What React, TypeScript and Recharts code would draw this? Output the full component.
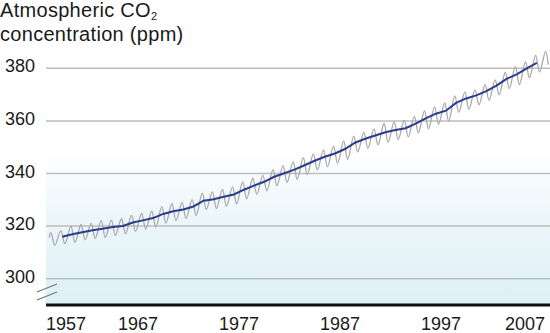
import React from 'react';
import { LineChart, Line, XAxis, YAxis, ReferenceLine, ReferenceArea } from 'recharts';

// Annual mean CO2 (ppm), Mauna Loa, 1959-2006
const ANNUAL_YEARS = [
  1959, 1960, 1961, 1962, 1963, 1964, 1965, 1966, 1967, 1968, 1969, 1970,
  1971, 1972, 1973, 1974, 1975, 1976, 1977, 1978, 1979, 1980, 1981, 1982,
  1983, 1984, 1985, 1986, 1987, 1988, 1989, 1990, 1991, 1992, 1993, 1994,
  1995, 1996, 1997, 1998, 1999, 2000, 2001, 2002, 2003, 2004, 2005, 2006,
];
const ANNUAL_MEAN = [
  315.98, 316.91, 317.64, 318.45, 318.99, 319.62, 320.04, 321.37, 322.18, 323.05, 324.62, 325.68,
  326.32, 327.46, 329.68, 330.19, 331.13, 332.03, 333.84, 335.41, 336.84, 338.76, 340.12, 341.48,
  343.15, 344.85, 346.35, 347.61, 349.31, 351.69, 353.2, 354.45, 355.7, 356.54, 357.21, 358.96,
  360.97, 362.74, 363.88, 366.84, 368.54, 369.71, 371.32, 373.45, 375.98, 377.7, 379.98, 382.09,
];

// Seasonal record: spring maximum and autumn minimum for each year
const SEASON_YEARS = [
  1958, 1959, 1960, 1961, 1962, 1963, 1964, 1965, 1966, 1967, 1968, 1969,
  1970, 1971, 1972, 1973, 1974, 1975, 1976, 1977, 1978, 1979, 1980, 1981,
  1982, 1983, 1984, 1985, 1986, 1987, 1988, 1989, 1990, 1991, 1992, 1993,
  1994, 1995, 1996, 1997, 1998, 1999, 2000, 2001, 2002, 2003, 2004, 2005,
  2006, 2007,
];
const SPRING_MAX = [
  317.5, 318.3, 320.0, 320.6, 321.0, 322.1, 322.3, 322.8, 324.1, 324.8, 325.7, 327.4,
  328.6, 328.9, 330.0, 332.5, 333.0, 334.0, 334.9, 336.8, 338.2, 339.3, 341.5, 343.0,
  344.4, 346.0, 347.5, 349.0, 350.4, 352.4, 354.2, 355.7, 357.0, 359.1, 359.6, 360.2,
  361.7, 363.8, 365.3, 366.8, 369.5, 371.0, 371.8, 373.8, 375.6, 378.5, 380.6, 382.4,
  384.9, 386.4,
];
const AUTUMN_MIN = [
  312.7, 313.3, 313.8, 314.8, 315.3, 315.7, 316.5, 317.1, 318.0, 318.9, 319.6, 321.1,
  322.1, 322.9, 324.0, 326.3, 326.7, 327.6, 328.4, 330.4, 332.1, 333.4, 335.3, 336.6,
  337.8, 339.6, 341.3, 342.6, 343.9, 345.4, 348.2, 349.6, 350.9, 351.9, 352.9, 353.9,
  355.4, 357.0, 358.7, 359.9, 363.3, 364.4, 366.1, 367.8, 369.9, 372.3, 373.8, 376.4,
  378.6,
];
const FIRST_READING = { t: 1958.21, v: 315.7 }; // March 1958
const LAST_READING = { t: 2007.63, v: 381.4 }; // August 2007

const X_TICKS = [1957, 1967, 1977, 1987, 1997, 2007];
const Y_TICKS = [300, 320, 340, 360, 380];

const annualData = ANNUAL_YEARS.map((y, i) => ({ t: y + 0.5, v: ANNUAL_MEAN[i] }));

const seasonalData: { t: number; v: number }[] = [FIRST_READING];
SEASON_YEARS.forEach((y, i) => {
  seasonalData.push({ t: y + 0.38, v: SPRING_MAX[i] });
  if (i < AUTUMN_MIN.length) seasonalData.push({ t: y + 0.76, v: AUTUMN_MIN[i] });
});
seasonalData.push(LAST_READING);

const W = 550;
const H = 333;
const PLOT_LEFT = 46;
const FONT = '"Liberation Sans", Arial, Helvetica, sans-serif';

const XTick = (props: any) => {
  const { x, y, payload } = props;
  const w = 40;
  let anchor: 'start' | 'middle' | 'end' = 'middle';
  let tx = x;
  if (x - w / 2 < PLOT_LEFT) {
    anchor = 'start';
    tx = PLOT_LEFT;
  } else if (x + w / 2 > W) {
    anchor = 'end';
    tx = W - 5;
  }
  return (
    <text x={tx} y={y} dy={25} textAnchor={anchor} fontSize={18} fontFamily={FONT} fill="#1a1a1a">
      {payload.value}
    </text>
  );
};

const YTick = (props: any) => {
  const { x, y, payload } = props;
  return (
    <text x={x - 11} y={y} dy={4} textAnchor="end" fontSize={18} fontFamily={FONT} fill="#1a1a1a">
      {payload.value}
    </text>
  );
};

export default function App() {
  return (
    <div style={{ position: 'absolute', left: 0, top: 0, width: W, height: H, background: '#fff' }}>
      <div
        style={{
          position: 'absolute',
          left: 0,
          top: 0,
          fontFamily: FONT,
          fontSize: 20,
          lineHeight: '21px',
          color: '#1a1a1a',
          letterSpacing: 0.3,
          whiteSpace: 'nowrap',
        }}
      >
        <div>
          Atmospheric CO<span style={{ fontSize: 11, position: 'relative', top: 3 }}>2</span>
        </div>
        <div>concentration (ppm)</div>
      </div>
      <LineChart
        width={W}
        height={H}
        margin={{ top: 42, right: 0, bottom: 0, left: 0 }}
        style={{ position: 'absolute', left: 0, top: 0 }}
      >
        <defs>
          <linearGradient id="bgGrad" x1="0" y1="0" x2="0" y2="1">
            <stop offset="0" stopColor="#ffffff" />
            <stop offset="0.4" stopColor="#eef7fa" />
            <stop offset="1" stopColor="#ddf0f6" />
          </linearGradient>
        </defs>
        <ReferenceArea y1={290} y2={349} fill="url(#bgGrad)" fillOpacity={1} stroke="none" ifOverflow="hidden" />
        {Y_TICKS.map((v) => (
          <ReferenceLine key={v} y={v} stroke="#bdbdbd" strokeWidth={1.5} />
        ))}
        <XAxis
          type="number"
          dataKey="t"
          domain={[1957.9, 2007.8]}
          allowDataOverflow
          ticks={X_TICKS}
          interval={0}
          tickLine={false}
          tickSize={0}
          tickMargin={0}
          height={28}
          axisLine={{ stroke: '#111', strokeWidth: 3 }}
          tick={<XTick />}
        />
        <YAxis
          type="number"
          domain={[290, 390]}
          allowDataOverflow
          ticks={Y_TICKS}
          interval={0}
          width={46}
          tickLine={false}
          tickSize={0}
          tickMargin={0}
          axisLine={false}
          tick={<YTick />}
        />
        <Line
          data={seasonalData}
          dataKey="v"
          type="monotone"
          stroke="#a9a9a9"
          strokeWidth={1.3}
          dot={false}
          isAnimationActive={false}
        />
        <Line
          data={annualData}
          dataKey="v"
          type="linear"
          stroke="#2b3b8e"
          strokeWidth={2}
          dot={false}
          isAnimationActive={false}
        />
      </LineChart>
      <svg width={W} height={H} style={{ position: 'absolute', left: 0, top: 0, pointerEvents: 'none' }}>
        <line x1={37} y1={292} x2={57} y2={284} stroke="#777" strokeWidth={1.3} />
        <line x1={37} y1={300} x2={57} y2={292} stroke="#777" strokeWidth={1.3} />
      </svg>
    </div>
  );
}
